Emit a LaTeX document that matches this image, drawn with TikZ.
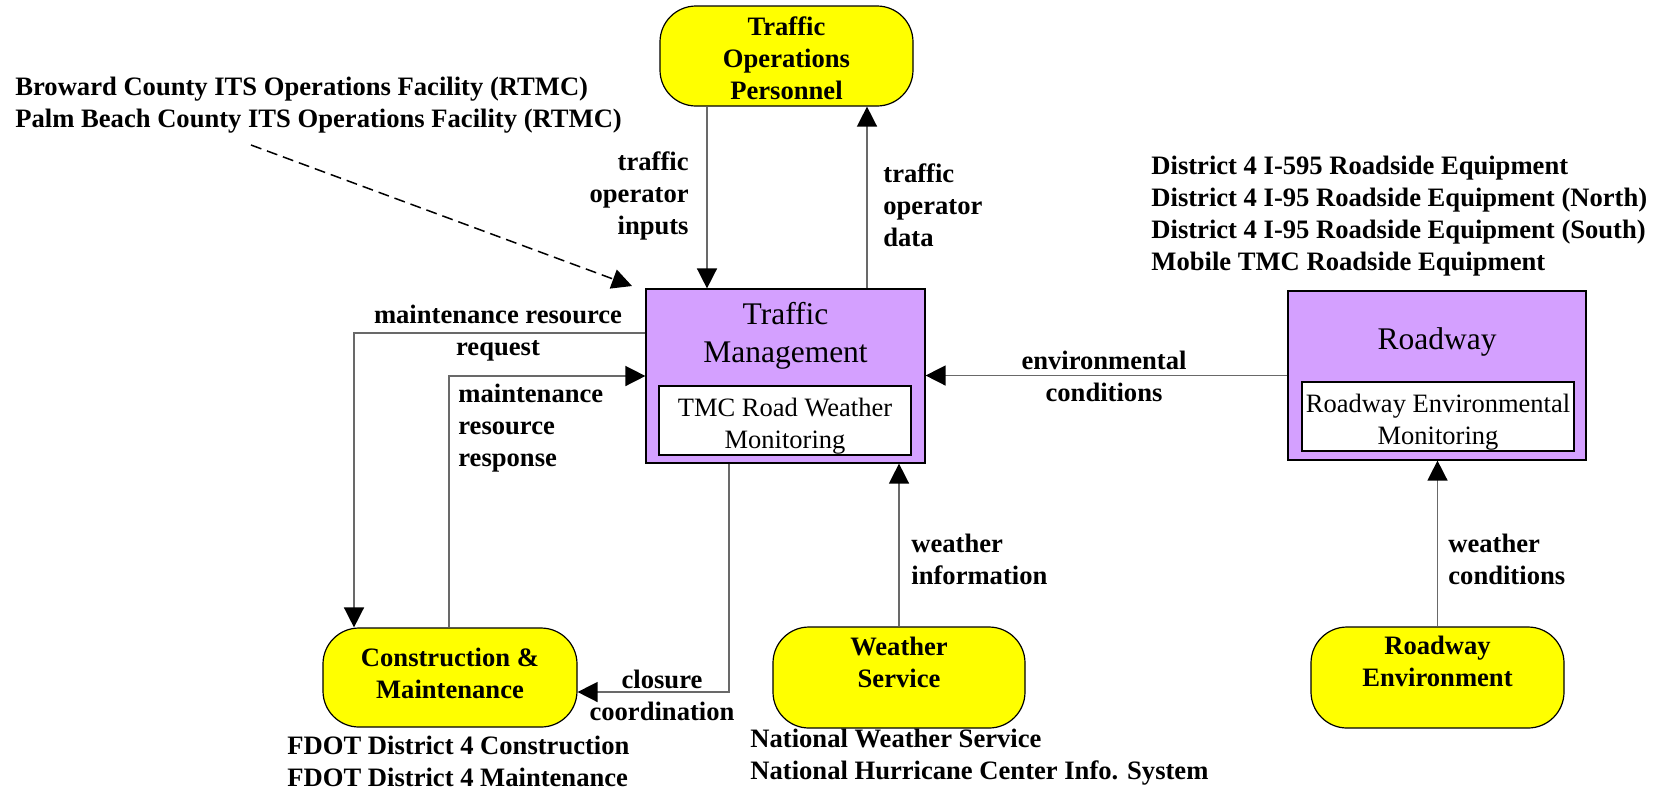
\documentclass[tikz,border=0pt]{standalone}
\usepackage{fontspec}
\setmainfont{Liberation Serif}
\usetikzlibrary{arrows.meta}
\definecolor{termyellow}{RGB}{255,255,0}
\definecolor{subpurple}{RGB}{212,160,255}
\definecolor{flowgray}{RGB}{105,105,105}
\begin{document}
\begin{tikzpicture}[x=0.5pt,y=-0.5pt,
    every node/.style={font=\fontsize{13.3}{16}\selectfont\bfseries,inner sep=0pt},
    term/.style={draw=black,line width=0.6pt,fill=termyellow,rounded corners=18pt},
    subsys/.style={draw=black,line width=0.6pt,fill=subpurple},
    subtitle/.style={align=center,font=\fontsize{15.75}{19}\selectfont},
    equip/.style={draw=black,line width=0.6pt,fill=white},
    equiptext/.style={align=center,font=\fontsize{13.25}{16}\selectfont},
    flow/.style={flowgray,line width=0.75pt,-{Triangle[length=10pt,width=10pt,color=black]}}]
    \fill[white] (0,0) rectangle (1661,789);
    \useasboundingbox (0,0) rectangle (1661,789);
    \node[term,minimum width=126.5pt,minimum height=50pt] (top) at (786.5,56) {};
    \node[align=center] (toptext) at ([yshift=-1pt]top.center) {Traffic\\Operations\\Personnel};
    \node[term,minimum width=127pt,minimum height=49.5pt] (cm) at (450,677.5) {};
    \node[align=center] (cmtext) at ([yshift=2pt]cm.center) {Construction \&\\Maintenance};
    \node[term,minimum width=126pt,minimum height=50.5pt] (ws) at (899,677.5) {};
    \node[align=center] (wstext) at ([yshift=7.5pt]ws.center) {Weather\\Service};
    \node[term,minimum width=126.5pt,minimum height=50.5pt] (re) at (1437.5,677.5) {};
    \node[align=center] (retext) at ([yshift=8pt]re.center) {Roadway\\Environment};
    \node[subsys,minimum width=139.5pt,minimum height=87pt] (tm) at (785.5,376) {};
    \node[subtitle] (tmtitle) at (785.5,336) {Traffic\\Management};
    \node[equip,minimum width=126pt,minimum height=34.5pt] (tmrw) at (785,420.5) {};
    \node[equiptext] (tmrwtext) at ([yshift=-3pt]tmrw.center) {TMC Road Weather\\Monitoring};
    \node[subsys,minimum width=149pt,minimum height=84.5pt] (rw) at (1437,375.5) {};
    \node[subtitle] (rwtitle) at (1437,342) {Roadway};
    \node[equip,minimum width=136pt,minimum height=34.5pt] (rwem) at (1438,416.5) {};
    \node[equiptext] (rwemtext) at ([yshift=-3pt]rwem.center) {Roadway Environmental\\Monitoring};
    \coordinate (dstart) at (251,145);
    \coordinate (dend) at (632,286);
    \draw[flow] (top.south -| 707,0) -- (tm.north -| 707,0);
    \draw[flow] (tm.north -| 867,0) -- (top.south -| 867,0);
    \draw[flow] (tm.west |- 0,333) -| (cm.north -| 354,0);
    \draw[flow] (cm.north -| 449,0) |- (tm.west);
    \draw[flow] (tm.south -| 729,0) |- (cm.east |- 0,692);
    \draw[flow] (ws.north) -- (tm.south -| ws.north);
    \draw[flow] (re.north) -- (rw.south -| re.north);
    \draw[flow] (rw.west) -- (tm.east |- rw.west);
    \draw[flow,black,dash pattern=on 5.5pt off 3pt] (dstart) -- (dend);
    \node[align=right,anchor=east] (inputs) at (689,196) {traffic\\operator\\inputs};
    \node[align=left,anchor=west] (data) at (883,205) {traffic\\operator\\data};
    \node[align=center] (request) at (498,333.5) {maintenance resource\\request};
    \node[align=left,anchor=west] (response) at (458,428.5) {maintenance\\resource\\response};
    \node[align=center] (closure) at (662,695) {closure\\coordination};
    \node[align=center] (envcond) at (1104,376) {environmental\\conditions};
    \node[align=left,anchor=west] (wxinfo) at (911,559) {weather\\information};
    \node[align=left,anchor=west] (wxcond) at (1448,559) {weather\\conditions};
    \node[align=left,anchor=west] (rtmc) at (15,105.5) {Broward County ITS Operations Facility (RTMC)\\Palm Beach County ITS Operations Facility (RTMC)};
    \node[align=left,anchor=west] (district) at (1151,216) {District 4 I-595 Roadside Equipment\\District 4 I-95 Roadside Equipment (North)\\District 4 I-95 Roadside Equipment (South)\\Mobile TMC Roadside Equipment};
    \node[align=left,anchor=west] (fdot) at (287,761) {FDOT District 4 Construction\\FDOT District 4 Maintenance};
    \node[align=left,anchor=west] (nws) at (750,757) {National Weather Service\\National Hurricane Center Info. System};
\end{tikzpicture}
\end{document}
